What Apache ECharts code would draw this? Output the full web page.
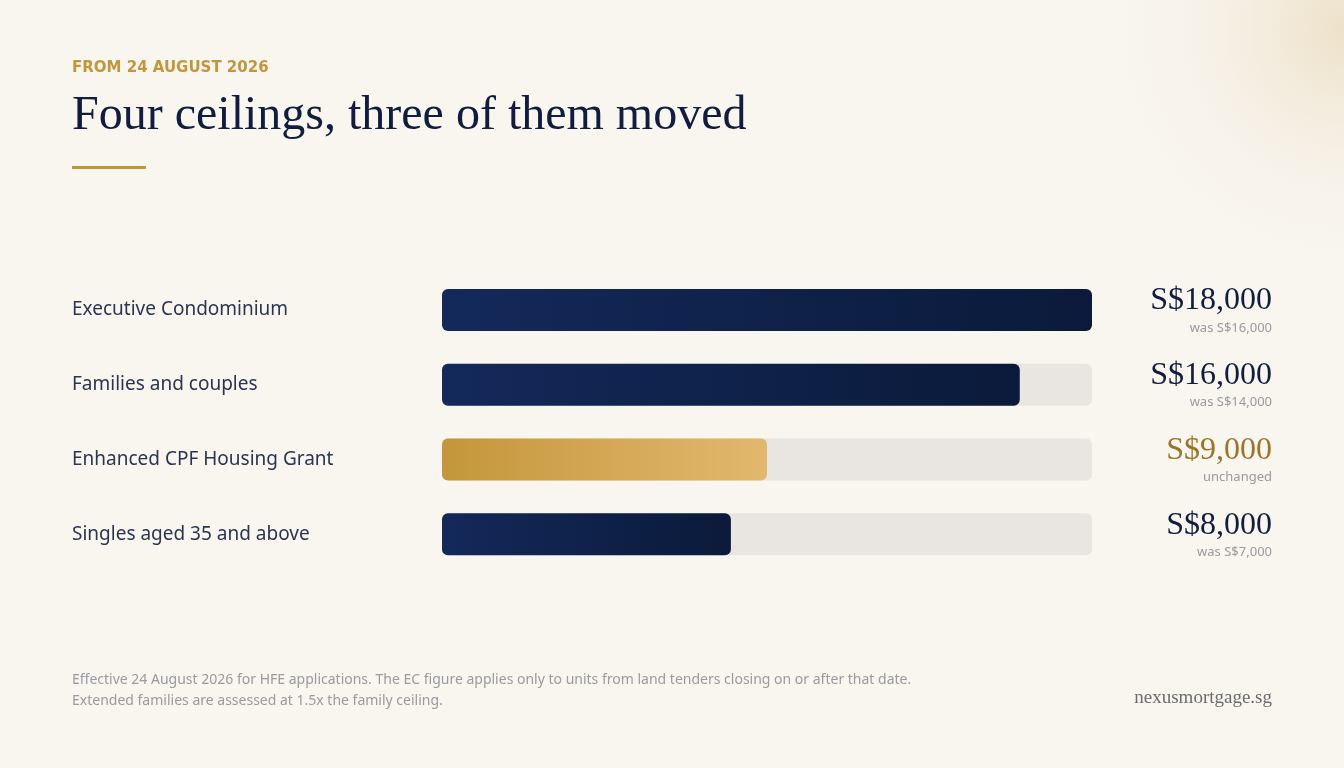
<!DOCTYPE html>
<html>
<head>
<meta charset="utf-8">
<script src="https://cdn.jsdelivr.net/npm/echarts@6/dist/echarts.min.js"></script>
<style>html,body{margin:0;padding:0;background:#f9f6f0}#chart{width:1344px;height:768px}</style>
</head>
<body>
<div id="chart"></div>
<script>
const categories = ['Executive Condominium', 'Families and couples', 'Enhanced CPF Housing Grant', 'Singles aged 35 and above'];
const ceilings = [18000, 16000, 9000, 8000];
const notes = ['was S$16,000', 'was S$14,000', 'unchanged', 'was S$7,000'];
const highlight = [false, false, true, false];
const axisMax = 18000;

const chart = echarts.init(document.getElementById('chart'));

const navy = new echarts.graphic.LinearGradient(0, 0, 1, 0, [
  { offset: 0, color: '#13295a' }, { offset: 1, color: '#0b1a3a' }
]);
const gold = new echarts.graphic.LinearGradient(0, 0, 1, 0, [
  { offset: 0, color: '#c4963b' }, { offset: 1, color: '#e2b86e' }
]);

function fmt(v) { return 'S$' + v.toLocaleString('en-US'); }

const option = {
  backgroundColor: '#f9f6f0',
  animation: false,
  graphic: [
    {
      type: 'circle', shape: { cx: 1344, cy: 30, r: 260 }, silent: true, z: -10,
      style: {
        fill: new echarts.graphic.RadialGradient(0.5, 0.5, 0.5, [
          { offset: 0, color: 'rgba(236,222,196,0.9)' }, { offset: 1, color: 'rgba(249,246,240,0)' }
        ])
      }
    },
    { type: 'text', left: 72, top: 61, style: { text: 'FROM 24 AUGUST 2026', fill: '#c4963b', font: '600 15px "DejaVu Sans"', letterSpacing: 2.5 } },
    { type: 'text', left: 72, top: 92, style: { text: 'Four ceilings, three of them moved', fill: '#101d3e', font: '48px "Liberation Serif"' } },
    { type: 'rect', shape: { x: 72, y: 166, width: 74, height: 3 }, style: { fill: '#c4963b' } },
    { type: 'text', left: 72, top: 670, style: { text: 'Effective 24 August 2026 for HFE applications. The EC figure applies only to units from land tenders closing on or after that date.\nExtended families are assessed at 1.5x the family ceiling.', fill: '#9a9a9f', font: '14px "Noto Sans"', lineHeight: 21 } },
    { type: 'text', right: 72, top: 689, style: { text: 'nexusmortgage.sg', fill: '#6b6b70', font: '19px "Liberation Serif"' } }
  ],
  grid: { left: 442, right: 252, top: 272.6, bottom: 196.4 },
  xAxis: { type: 'value', min: 0, max: axisMax, show: false },
  yAxis: [
    {
      type: 'category', data: categories, inverse: true,
      axisLine: { show: false }, axisTick: { show: false },
      axisLabel: { align: 'left', margin: 370, color: '#2b3450', fontSize: 19, fontFamily: 'Noto Sans' }
    },
    {
      type: 'category', data: categories, inverse: true, position: 'right',
      axisLine: { show: false }, axisTick: { show: false },
      axisLabel: {
        align: 'right', margin: 180,
        formatter: (v, i) => '{' + (highlight[i] ? 'g' : 'v') + '|' + fmt(ceilings[i]) + '}\n{s|' + notes[i] + '}',
        rich: {
          v: { fontFamily: 'Liberation Serif', fontSize: 32, color: '#101d3e', lineHeight: 36, align: 'right' },
          g: { fontFamily: 'Liberation Serif', fontSize: 32, color: '#9c7427', lineHeight: 36, align: 'right' },
          s: { fontFamily: 'Noto Sans', fontSize: 13, color: '#9a9a9f', lineHeight: 18, align: 'right' }
        }
      }
    }
  ],
  series: [
    {
      type: 'bar', barWidth: 42, silent: true,
      data: ceilings.map(() => axisMax),
      itemStyle: { color: '#e9e6e1', borderRadius: 6 }
    },
    {
      type: 'bar', barWidth: 42, barGap: '-100%',
      data: ceilings.map((v, i) => ({ value: v, itemStyle: { color: highlight[i] ? gold : navy, borderRadius: 6 } }))
    }
  ]
};
chart.setOption(option);
</script>
</body>
</html>
